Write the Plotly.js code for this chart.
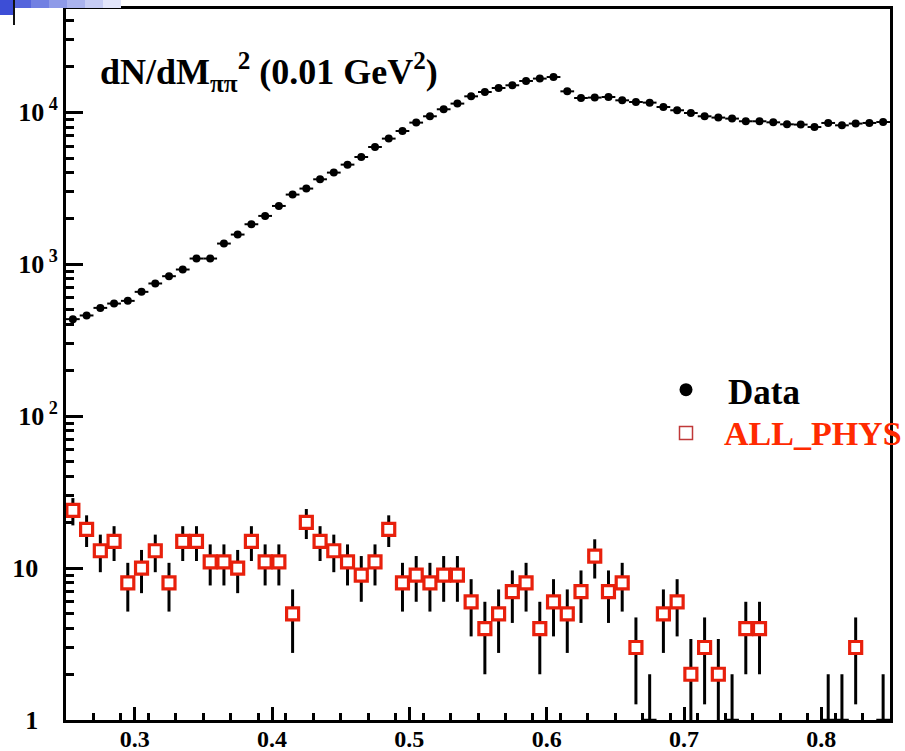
<!DOCTYPE html>
<html>
<head>
<meta charset="utf-8">
<script src="https://cdn.plot.ly/plotly-3.0.1.min.js"></script>
<style>
  html, body { margin: 0; padding: 0; background: #ffffff; }
  #chart { width: 905px; height: 751px; }
</style>
</head>
<body>
<div id="chart"></div>
<script>
// Bin centres of M_pipi^2 (GeV^2), bin width 0.01
const binCenters = [
  0.255, 0.265, 0.275, 0.285, 0.295, 0.305, 0.315, 0.325, 0.335, 0.345,
  0.355, 0.365, 0.375, 0.385, 0.395, 0.405, 0.415, 0.425, 0.435, 0.445,
  0.455, 0.465, 0.475, 0.485, 0.495, 0.505, 0.515, 0.525, 0.535, 0.545,
  0.555, 0.565, 0.575, 0.585, 0.595, 0.605, 0.615, 0.625, 0.635, 0.645,
  0.655, 0.665, 0.675, 0.685, 0.695, 0.705, 0.715, 0.725, 0.735, 0.745,
  0.755, 0.765, 0.775, 0.785, 0.795, 0.805, 0.815, 0.825, 0.835, 0.845
];

// "Data" counts per bin
const dataCounts = [
  435, 460, 516, 551, 574, 658, 747, 834, 923, 1090,
  1090, 1368, 1568, 1833, 2080, 2419, 2874, 3148, 3623, 4010,
  4525, 5080, 5912, 6712, 7531, 8555, 9414, 10470, 11410, 12740,
  13600, 14450, 15060, 16080, 16670, 17070, 13740, 12420, 12500, 12610,
  11990, 11690, 11580, 10840, 10310, 9895, 9414, 9230, 9090, 8730,
  8730, 8590, 8335, 8300, 8000, 8510, 8210, 8430, 8510, 8630
];

// "ALL_PHYS" counts per bin
const allPhysCounts = [
  24, 18, 13, 15, 8, 10, 13, 8, 15, 15,
  11, 11, 10, 15, 11, 11, 5, 20, 15, 13,
  11, 9, 11, 18, 8, 9, 8, 9, 9, 6,
  4, 5, 7, 8, 4, 6, 5, 7, 12, 7,
  8, 3, 1, 5, 6, 2, 3, 2, 1, 4,
  4, 0, 0, 0, 0, 1, 1, 3, 0, 1
];

const seriesNames = ['Data', 'ALL_PHYS'];
const yTickVals = [1, 10, 100, 1000, 10000];
const yTickText = ['1\u00a0\u00a0\u00a0', '10\u00a0\u00a0\u00a0', '10<sup>\u00a02</sup>', '10<sup>\u00a03</sup>', '10<sup>\u00a04</sup>'];
const xTickVals = [0.3, 0.4, 0.5, 0.6, 0.7, 0.8];
const xTickText = ['0.3', '0.4', '0.5', '0.6', '0.7', '0.8'];

const serif = 'Liberation Serif, Times New Roman, serif';
const redMarker = '#e8200c';
const legendRed = '#ff2a00';

// Poisson errors
const dataErr = dataCounts.map(v => Math.sqrt(v));
const apY = allPhysCounts.map(v => v > 0 ? v : null);
const apErr = allPhysCounts.map(v => v > 0 ? Math.sqrt(v) : null);
const apOpacity = allPhysCounts.map(v => v > 1 ? 1 : 0);

// minor log ticks
const yMinor = [];
[1, 10, 100, 1000, 10000].forEach(d => { for (let k = 2; k <= 9; k++) yMinor.push(d * k); });

const traces = [
  {
    x: binCenters, y: dataCounts, type: 'scatter', mode: 'markers', showlegend: false,
    name: seriesNames[0],
    marker: { symbol: 'circle', size: 8, color: '#000000' },
    error_x: { type: 'constant', value: 0.005, width: 0, thickness: 2, color: '#000000' },
    error_y: { type: 'data', array: dataErr, width: 0, thickness: 2, color: '#000000' },
    hoverinfo: 'x+y'
  },
  {
    x: binCenters, y: apY, type: 'scatter', mode: 'markers', showlegend: false,
    name: seriesNames[1],
    marker: { symbol: 'square', size: 12, color: '#ffffff', opacity: apOpacity,
              line: { color: redMarker, width: 3.2 } },
    error_x: { type: 'constant', value: 0.005, width: 0, thickness: 2.5, color: '#000000' },
    error_y: { type: 'data', array: apErr, width: 0, thickness: 3, color: '#000000' },
    hoverinfo: 'x+y'
  },
  // legend symbols (labels are drawn as annotations next to them)
  {
    x: [null], y: [null], type: 'scatter', mode: 'markers', name: '\u00a0',
    marker: { symbol: 'circle', size: 13, color: '#000000' }
  },
  {
    x: [null], y: [null], type: 'scatter', mode: 'markers', name: '\u00a0',
    marker: { symbol: 'square-open', size: 13, color: '#c03838', line: { width: 1.5 } }
  }
];

const L = 66, R = 890, T = 9, B = 720;
const px = v => (v - L) / (R - L);
const py = v => (B - v) / (B - T);

const shapes = [
  { type: 'rect', xref: 'paper', yref: 'paper', x0: px(0), x1: px(13), y0: py(15), y1: py(0),
    fillcolor: '#3d4ed6', line: { width: 0 }, layer: 'above' }
];
const grad = ['#5565dc', '#7180e2', '#8e9ae8', '#aab3ee', '#c6ccf4', '#e2e5fa'];
grad.forEach((c, i) => {
  shapes.push({ type: 'rect', xref: 'paper', yref: 'paper',
    x0: px(13 + i * 18), x1: px(13 + (i + 1) * 18), y0: py(8), y1: py(0),
    fillcolor: c, line: { width: 0 }, layer: 'above' });
});
shapes.push({ type: 'line', xref: 'paper', yref: 'paper', x0: px(14), x1: px(14), y0: py(25), y1: py(0),
  line: { color: '#111111', width: 2 }, layer: 'above' });

const layout = {
  width: 905, height: 751,
  margin: { l: L, r: 905 - R, t: T, b: 751 - B },
  paper_bgcolor: '#ffffff', plot_bgcolor: '#ffffff',
  showlegend: true,
  legend: {
    x: px(666), xanchor: 'left', y: py(363), yanchor: 'top',
    bgcolor: 'rgba(0,0,0,0)', borderwidth: 0, itemwidth: 30,
    font: { family: serif, size: 31, color: '#000000' }
  },
  xaxis: {
    range: [0.25, 0.85], showgrid: false, zeroline: false,
    tickmode: 'array', tickvals: xTickVals, ticktext: xTickText,
    ticks: 'inside', ticklen: 13, tickwidth: 3, tickcolor: '#000000',
    ticklabelstandoff: -5,
    showline: true, linewidth: 3, linecolor: '#000000', mirror: true,
    tickfont: { family: serif, size: 24, color: '#000000', weight: 'bold' },
    minor: { ticks: 'inside', ticklen: 7, tickwidth: 3, tickcolor: '#000000', dtick: 0.02, tick0: 0.25, showgrid: false }
  },
  yaxis: {
    type: 'log', range: [0, 4.68], showgrid: false, zeroline: false,
    tickmode: 'array', tickvals: yTickVals, ticktext: yTickText,
    ticks: 'inside', ticklen: 17, tickwidth: 3, tickcolor: '#000000',
    showline: true, linewidth: 3, linecolor: '#000000', mirror: true,
    tickfont: { family: serif, size: 26, color: '#000000', weight: 'bold' },
    minor: { ticks: 'inside', ticklen: 8, tickwidth: 3, tickcolor: '#000000', tickmode: 'array', tickvals: yMinor, showgrid: false }
  },
  annotations: [
    {
      xref: 'paper', yref: 'paper', x: px(98), y: py(72), xanchor: 'left', yanchor: 'middle',
      text: 'dN/dM<sub>ππ</sub><sup>2</sup> (0.01 GeV<sup>2</sup>)', showarrow: false,
      font: { family: serif, size: 36, color: '#000000', weight: 'bold' }
    },
    {
      xref: 'paper', yref: 'paper', x: px(726), y: py(392), xanchor: 'left', yanchor: 'middle',
      text: seriesNames[0], showarrow: false,
      font: { family: serif, size: 35, color: '#000000', weight: 'bold' }
    },
    {
      xref: 'paper', yref: 'paper', x: px(722), y: py(433), xanchor: 'left', yanchor: 'middle',
      text: seriesNames[1], showarrow: false,
      font: { family: serif, size: 34, color: legendRed, weight: 'bold' }
    }
  ],
  shapes: shapes
};

Plotly.newPlot('chart', traces, layout, { displayModeBar: false, staticPlot: true });
</script>
</body>
</html>
